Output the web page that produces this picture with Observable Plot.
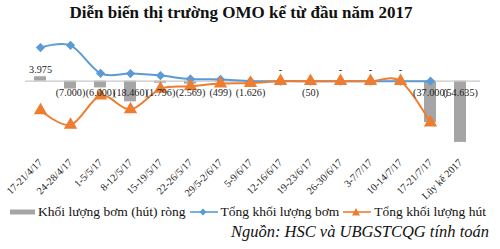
<!DOCTYPE html>
<html><head><meta charset="utf-8">
<script src="https://cdn.jsdelivr.net/npm/d3@7"></script>
<script src="https://cdn.jsdelivr.net/npm/@observablehq/plot@0.6"></script>
<style>
body{margin:0;background:#fff;font-family:"Liberation Serif","Times New Roman",serif;width:500px;height:249px;overflow:hidden;position:relative}
#title{height:28px;line-height:26px;text-align:center;font-weight:bold;font-size:17px;padding-right:18px;color:#111}
#chart{position:absolute;top:28px;left:0}
#legend{position:absolute;top:204px;left:9px;font-size:13.5px;display:flex;align-items:center;white-space:nowrap;color:#111;background:transparent}
#legend span{display:inline-flex;align-items:center}
#source{position:absolute;top:222px;right:11px;font-style:italic;font-size:16.5px;color:#111}
</style></head>
<body>
<div id="title">Diễn biến thị trường OMO kể từ đầu năm 2017</div>
<div id="chart"></div>
<div id="legend"></div>
<div id="source">Nguồn: HSC và UBGSTCQG tính toán</div>
<script>
const categories = ["17-21/4/17","24-28/4/17","1-5/5/17","8-12/5/17","15-19/5/17","22-26/5/17","29/5-2/6/17","5-9/6/17","12-16/6/17","19-23/6/17","26-30/6/17","3-7/7/17","10-14/7/17","17-21/7/17","Lũy kế 2017"];
const netValues = [3975, -7000, -6000, -18460, -1796, -2569, -499, -1626, 0, -50, 0, 0, 0, -37000, -54635];
const injectionValues = [30000, 32000, 7000, 6800, 5000, 2000, 1600, 0, 0, 0, 0, 0, 0, 0, null];
const absorptionValues = [-26025, -39000, -13000, -25260, -6796, -4569, -2099, -1626, 0, -50, 0, 0, 0, -37000, null];
const seriesNames = ["Khối lượng bơm (hút) ròng", "Tổng khối lượng bơm", "Tổng khối lượng hút"];
const colors = ["#a5a5a5", "#5b9bd5", "#ed7d31"];

const fmt = v => {
  if (v === 0) return "-";
  const s = d3.format(",")(Math.abs(v)).replace(/,/g, ".");
  return v < 0 ? "(" + s + ")" : s;
};
const data = categories.map((c, i) => ({cat: c, net: netValues[i], inj: injectionValues[i], abs: absorptionValues[i], label: fmt(netValues[i])}));
const inj = data.filter(d => d.inj != null);
const abs = data.filter(d => d.abs != null);

const serif = "Liberation Serif, Times New Roman, serif";
const chart = Plot.plot({
  width: 500, height: 178,
  marginLeft: 16, marginRight: 16, marginTop: 13.5, marginBottom: 63.7,
  x: {type: "band", domain: categories, padding: 0.6},
  y: {domain: [-55000, 35000], axis: null},
  style: {fontFamily: serif, background: "transparent"},
  marks: [
    Plot.barY(data, {x: "cat", y: "net", fill: colors[0]}),
    Plot.ruleY([0], {stroke: "#c8c8c8", strokeWidth: 1.2, insetLeft: 9, insetRight: 4}),
    Plot.line(inj, {x: "cat", y: "inj", stroke: colors[1], strokeWidth: 2, curve: "cardinal"}),
    Plot.dot(inj, {x: "cat", y: "inj", symbol: "diamond2", fill: colors[1], stroke: colors[1], r: 3.2}),
    Plot.line(abs, {x: "cat", y: "abs", stroke: colors[2], strokeWidth: 2, curve: "cardinal"}),
    Plot.dot(abs, {x: "cat", y: "abs", symbol: "triangle", fill: colors[2], stroke: colors[2], r: 4}),
    Plot.text(data.filter(d => d.net >= 0), {x: "cat", y: 0, text: "label", dy: -11, fontSize: 10.2, fill: "#222"}),
    Plot.text(data.filter(d => d.net < 0), {x: "cat", y: 0, text: "label", dy: 12, fontSize: 10.2, fill: "#222"}),
    Plot.axisX({tickRotate: -45, tickSize: 0, tickPadding: 18, fontSize: 10.3, label: null, color: "#222"})
  ]
});
document.getElementById("chart").appendChild(chart);

const lg = document.getElementById("legend");
const sw = (i) => {
  if (i === 0) return `<svg width="27" height="10"><rect x="1" y="2.5" width="25" height="5" fill="${colors[0]}"/></svg>`;
  const sym = i === 1
    ? `<path d="M14,1.5 L17.5,5 L14,8.5 L10.5,5Z" fill="${colors[1]}"/>`
    : `<path d="M14,1 L18,8.5 L10,8.5Z" fill="${colors[2]}"/>`;
  return `<svg width="30" height="10"><line x1="1" y1="5" x2="29" y2="5" stroke="${colors[i]}" stroke-width="1.6"/>${sym}</svg>`;
};
lg.innerHTML = seriesNames.map((n, i) => `<span>${sw(i)}<span style="margin:0 3px 0 2px">${n}</span></span>`).join("");
</script>
</body></html>
